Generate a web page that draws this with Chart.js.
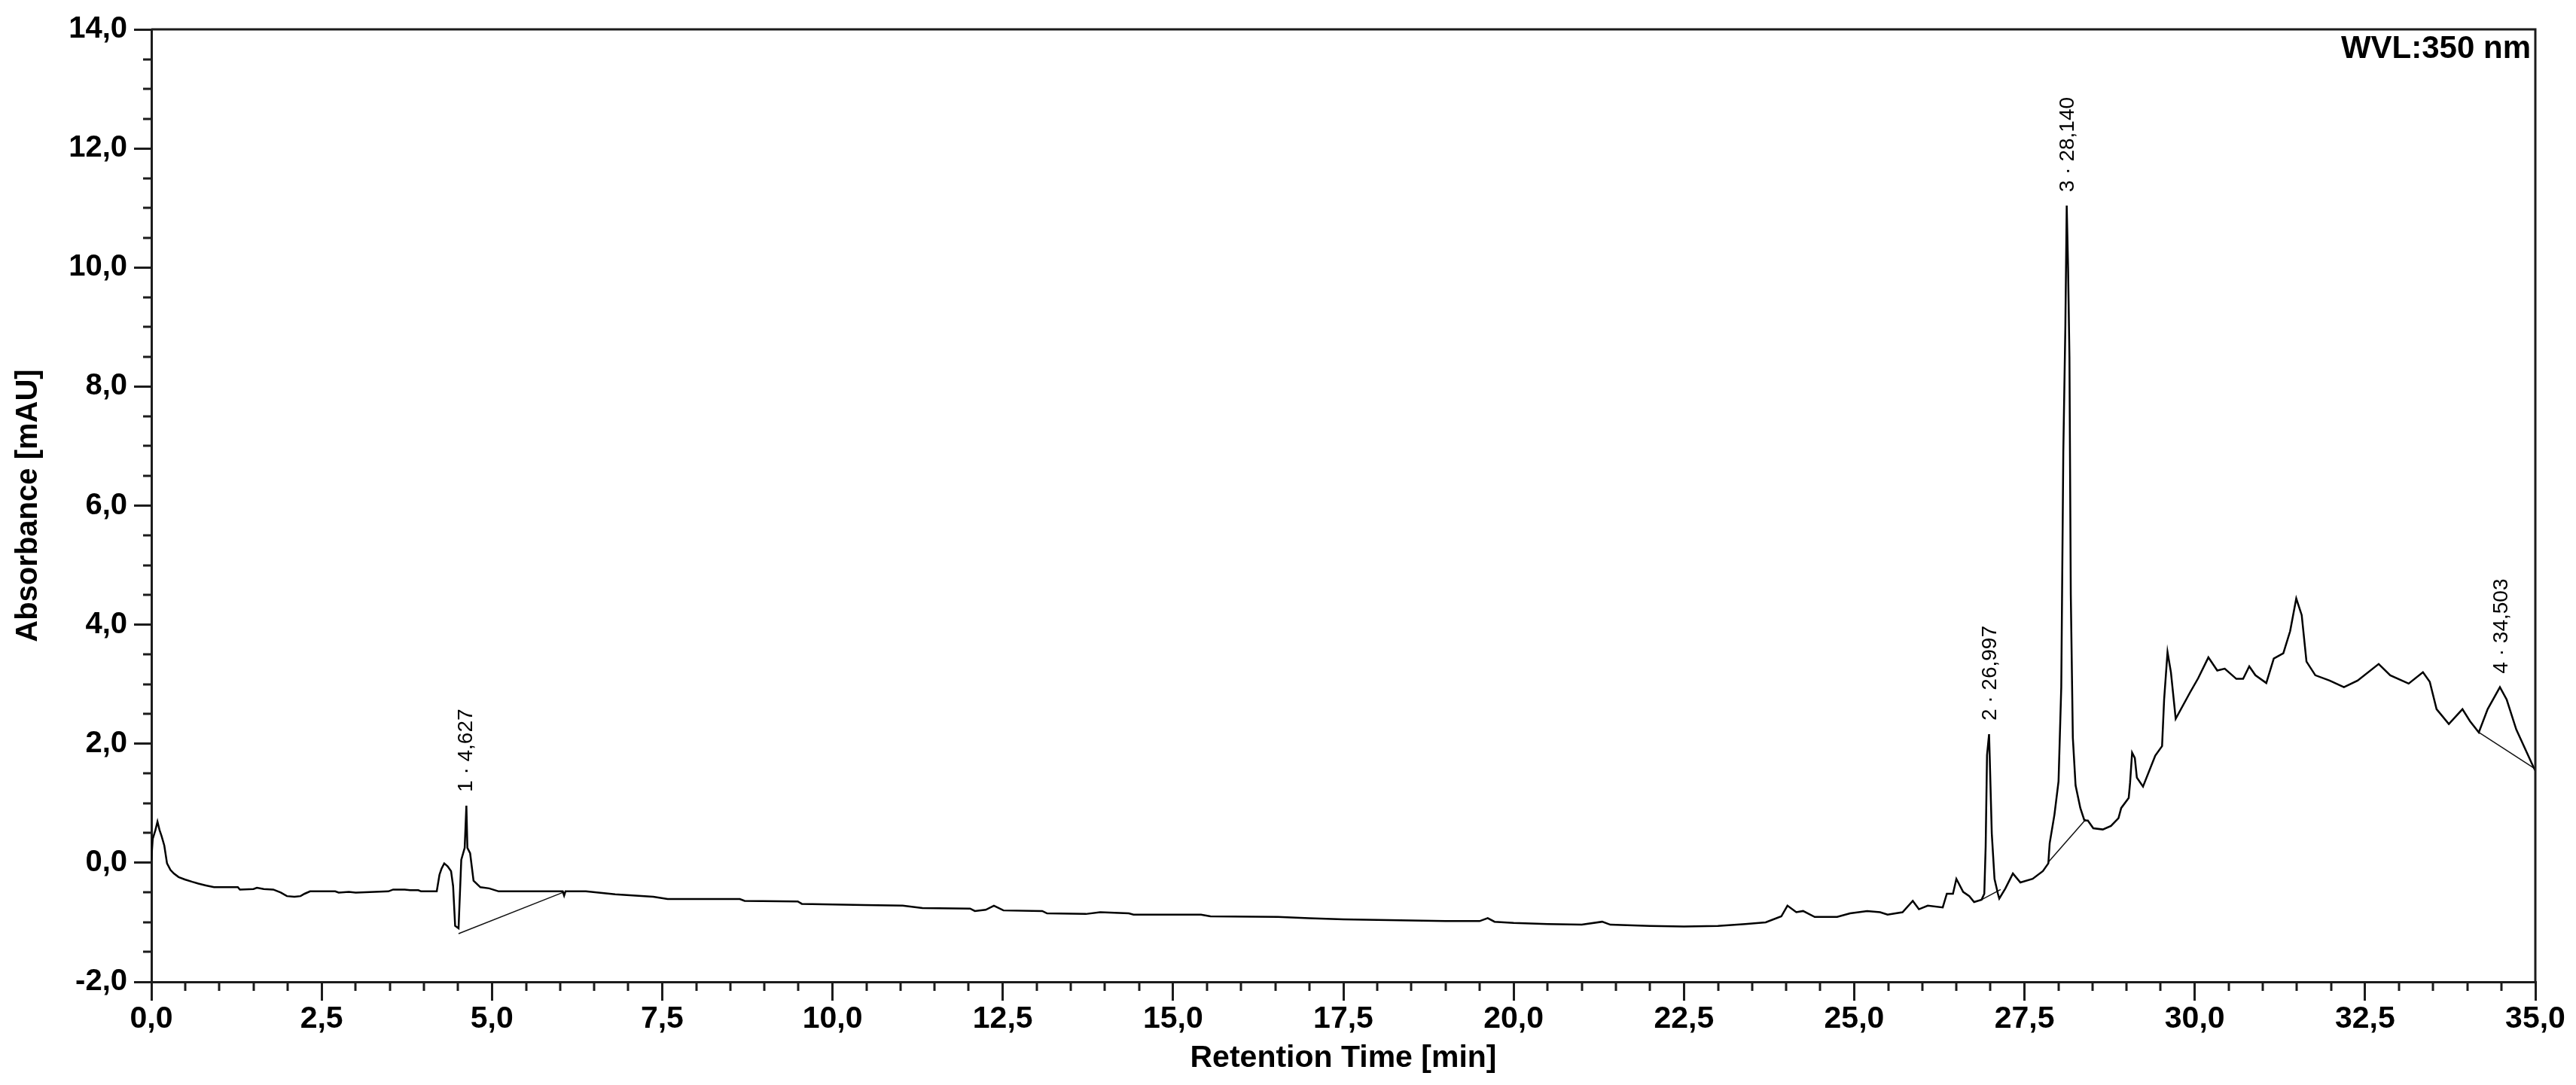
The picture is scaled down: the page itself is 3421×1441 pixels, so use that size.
<!DOCTYPE html>
<html>
<head>
<meta charset="utf-8">
<script src="https://cdn.jsdelivr.net/npm/chart.js@4.4.2/dist/chart.umd.min.js"></script>
<style>
  html, body { margin: 0; padding: 0; background: #fff; }
  #wrap { width: 3421px; height: 1441px; }
</style>
</head>
<body>
<div id="wrap"><canvas id="chromChart" width="3421" height="1441"></canvas></div>
<script>
// Chromatogram trace: retention time (min) / signal (mAU)
const retentionTime = [
  0.00, 0.02, 0.06, 0.09, 0.12, 0.15, 0.19, 0.23, 0.28, 0.33, 0.40, 0.49, 0.60, 0.69, 0.80, 0.92,
  1.10, 1.27, 1.30, 1.50, 1.55, 1.65, 1.79, 1.90, 1.99, 2.10, 2.19, 2.25, 2.33, 2.70, 2.75, 2.90,
  3.00, 3.48, 3.55, 3.72, 3.80, 3.92, 3.96, 4.19, 4.23, 4.26, 4.30, 4.35, 4.40, 4.43, 4.46, 4.51,
  4.55, 4.60, 4.625, 4.64, 4.68, 4.73, 4.83, 4.96, 5.10, 5.50, 6.04, 6.06, 6.08, 6.38, 6.81, 7.37,
  7.58, 8.64, 8.71, 9.49, 9.55, 10.47, 11.03, 11.32, 12.02, 12.09, 12.25, 12.37, 12.51, 13.08, 13.15, 13.72,
  13.93, 14.35, 14.42, 15.41, 15.55, 16.54, 17.0, 17.5, 18.0, 18.5, 19.0, 19.5, 19.62, 19.72, 20.0, 20.5,
  21.0, 21.3, 21.42, 22.0, 22.5, 23.0, 23.4, 23.7, 23.93, 24.02, 24.15, 24.25, 24.42, 24.75, 24.94, 25.19,
  25.38, 25.49, 25.71, 25.86, 25.95, 26.08, 26.30, 26.36, 26.45, 26.50, 26.60, 26.69, 26.76, 26.87, 26.91, 26.93,
  26.95, 26.98, 26.99, 27.02, 27.06, 27.11, 27.13, 27.22, 27.33, 27.44, 27.62, 27.77, 27.85, 27.87, 27.94, 28.00,
  28.04, 28.07, 28.10, 28.12, 28.14, 28.16, 28.18, 28.21, 28.25, 28.32, 28.38, 28.43, 28.51, 28.65, 28.77, 28.88,
  28.92, 29.03, 29.05, 29.08, 29.12, 29.15, 29.24, 29.42, 29.52, 29.55, 29.60, 29.65, 29.72, 29.93, 30.05, 30.20,
  30.33, 30.44, 30.61, 30.71, 30.80, 30.89, 31.05, 31.16, 31.30, 31.40, 31.49, 31.57, 31.64, 31.77, 31.98, 32.19,
  32.39, 32.70, 32.87, 33.14, 33.35, 33.45, 33.55, 33.73, 33.93, 34.04, 34.17, 34.30, 34.48, 34.58, 34.72, 34.98,
  35.00
];
const absorbance = [
  0.05, 0.40, 0.55, 0.69, 0.55, 0.45, 0.29, -0.01, -0.12, -0.18, -0.24, -0.28, -0.32, -0.35, -0.38, -0.41,
  -0.41, -0.41, -0.45, -0.44, -0.42, -0.44, -0.45, -0.50, -0.56, -0.57, -0.56, -0.52, -0.48, -0.48, -0.50, -0.49,
  -0.50, -0.48, -0.45, -0.45, -0.46, -0.46, -0.48, -0.48, -0.20, -0.10, -0.01, -0.06, -0.14, -0.39, -1.06, -1.10,
  0.05, 0.25, 0.96, 0.25, 0.16, -0.30, -0.41, -0.43, -0.48, -0.48, -0.48, -0.55, -0.48, -0.48, -0.53, -0.57,
  -0.61, -0.61, -0.64, -0.65, -0.69, -0.71, -0.72, -0.76, -0.77, -0.81, -0.79, -0.72, -0.80, -0.81, -0.85, -0.86,
  -0.83, -0.85, -0.87, -0.87, -0.90, -0.91, -0.93, -0.95, -0.96, -0.97, -0.98, -0.98, -0.93, -0.99, -1.01, -1.03,
  -1.04, -0.99, -1.04, -1.06, -1.07, -1.06, -1.03, -1.00, -0.90, -0.72, -0.83, -0.81, -0.91, -0.91, -0.85, -0.81,
  -0.83, -0.87, -0.83, -0.64, -0.78, -0.72, -0.75, -0.52, -0.52, -0.27, -0.49, -0.56, -0.66, -0.62, -0.52, 0.27,
  1.81, 2.16, 1.76, 0.49, -0.27, -0.52, -0.60, -0.43, -0.18, -0.33, -0.27, -0.14, -0.01, 0.33, 0.81, 1.37,
  2.95, 6.90, 9.00, 11.04, 10.00, 8.50, 4.50, 2.10, 1.30, 0.92, 0.71, 0.71, 0.58, 0.56, 0.62, 0.75,
  0.92, 1.09, 1.34, 1.85, 1.76, 1.43, 1.28, 1.80, 1.96, 2.74, 3.54, 3.20, 2.42, 2.86, 3.10, 3.45,
  3.23, 3.26, 3.09, 3.09, 3.30, 3.15, 3.02, 3.43, 3.52, 3.89, 4.44, 4.16, 3.38, 3.15, 3.06, 2.95,
  3.06, 3.34, 3.15, 3.01, 3.20, 3.04, 2.58, 2.33, 2.58, 2.38, 2.19, 2.58, 2.95, 2.74, 2.24, 1.59,
  1.55
];

// integration baselines drawn under the detected peaks: [time, signal] end points
const peak1Baseline = [[4.51, -1.19], [6.06, -0.49]];
const peak2Baseline = [[26.87, -0.62], [27.15, -0.45]];
const peak3Baseline = [[27.85, 0.01], [28.40, 0.73]];
const peak4Baseline = [[34.17, 2.19], [34.98, 1.59]];

// peak annotations
const peakNumbers = [1, 2, 3, 4];
const peakTimes = [4.627, 26.997, 28.140, 34.503];
const peakApex = [0.96, 2.16, 11.04, 2.95];

const wavelengthLabel = 'WVL:350 nm';

const X_MIN = 0, X_MAX = 35, X_MAJOR = 2.5, X_MINOR = 0.5;
const Y_MIN = -2, Y_MAX = 14, Y_MAJOR = 2, Y_MINOR = 0.5;

const AXIS_COLOR = '#1c1c1c';
const FONT_FAMILY = "'Liberation Sans', Arial, sans-serif";

const commaNum = (v, d) => v.toFixed(d).replace('.', ',');

const toPoints = (xs, ys) => xs.map((t, i) => ({x: t, y: ys[i]}));
const pairPoints = pairs => pairs.map(p => ({x: p[0], y: p[1]}));

// minor ticks, frame and text annotations drawn on top through the chart scales
const decorations = {
  id: 'decorations',
  afterDraw(chart) {
    const {ctx, chartArea, scales} = chart;
    const xs = scales.x, ys = scales.y;
    ctx.save();
    ctx.strokeStyle = AXIS_COLOR;
    ctx.lineWidth = 3;

    // closing frame (top and right edges)
    ctx.beginPath();
    ctx.moveTo(chartArea.left, chartArea.top);
    ctx.lineTo(chartArea.right, chartArea.top);
    ctx.lineTo(chartArea.right, chartArea.bottom);
    ctx.stroke();

    // minor ticks
    ctx.beginPath();
    const nx = Math.round((X_MAX - X_MIN) / X_MINOR);
    const perX = Math.round(X_MAJOR / X_MINOR);
    for (let i = 0; i <= nx; i++) {
      if (i % perX === 0) continue;
      const px = Math.round(xs.getPixelForValue(X_MIN + i * X_MINOR));
      ctx.moveTo(px, chartArea.bottom);
      ctx.lineTo(px, chartArea.bottom + 12);
    }
    const ny = Math.round((Y_MAX - Y_MIN) / Y_MINOR);
    const perY = Math.round(Y_MAJOR / Y_MINOR);
    for (let i = 0; i <= ny; i++) {
      if (i % perY === 0) continue;
      const py = Math.round(ys.getPixelForValue(Y_MIN + i * Y_MINOR));
      ctx.moveTo(chartArea.left, py);
      ctx.lineTo(chartArea.left - 11, py);
    }
    ctx.stroke();

    // wavelength tag
    ctx.fillStyle = '#000';
    ctx.font = 'bold 42px ' + FONT_FAMILY;
    ctx.textAlign = 'right';
    ctx.textBaseline = 'alphabetic';
    ctx.fillText(wavelengthLabel, chartArea.right - 6, chartArea.top + 38);

    // peak labels, rotated
    ctx.font = '28px ' + FONT_FAMILY;
    ctx.textAlign = 'left';
    ctx.textBaseline = 'middle';
    peakTimes.forEach((t, i) => {
      const px = xs.getPixelForValue(t);
      const py = ys.getPixelForValue(peakApex[i]);
      ctx.save();
      ctx.translate(px, py - 18);
      ctx.rotate(-Math.PI / 2);
      ctx.fillText(peakNumbers[i] + ' \u00b7 ' + commaNum(t, 3), 0, 0);
      ctx.restore();
    });
    ctx.restore();
  }
};

const baselineStyle = {
  borderColor: '#111',
  borderWidth: 1.5,
  pointRadius: 0,
  tension: 0
};

new Chart(document.getElementById('chromChart'), {
  type: 'line',
  data: {
    datasets: [
      {
        label: 'Signal',
        data: toPoints(retentionTime, absorbance),
        borderColor: '#000',
        borderWidth: 2.5,
        pointRadius: 0,
        tension: 0
      },
      {label: 'Baseline 1', data: pairPoints(peak1Baseline), ...baselineStyle},
      {label: 'Baseline 2', data: pairPoints(peak2Baseline), ...baselineStyle},
      {label: 'Baseline 3', data: pairPoints(peak3Baseline), ...baselineStyle},
      {label: 'Baseline 4', data: pairPoints(peak4Baseline), ...baselineStyle}
    ]
  },
  options: {
    responsive: false,
    animation: false,
    events: [],
    layout: {padding: {left: 0, top: 39, right: 54, bottom: 0}},
    plugins: {legend: {display: false}, tooltip: {enabled: false}},
    scales: {
      x: {
        type: 'linear',
        min: X_MIN,
        max: X_MAX,
        afterFit: s => { s.height = 137; },
        border: {display: true, color: AXIS_COLOR, width: 3},
        grid: {
          drawOnChartArea: false,
          drawTicks: true,
          tickLength: 25,
          tickColor: AXIS_COLOR,
          lineWidth: 3
        },
        ticks: {
          stepSize: X_MAJOR,
          autoSkip: false,
          maxRotation: 0,
          padding: 0,
          color: '#000',
          font: {family: FONT_FAMILY, size: 41, weight: 'bold'},
          callback: v => commaNum(v, 1)
        },
        title: {
          display: true,
          text: 'Retention Time [min]',
          color: '#000',
          font: {family: FONT_FAMILY, size: 41, weight: 'bold'},
          padding: {top: 0, bottom: 11}
        }
      },
      y: {
        type: 'linear',
        min: Y_MIN,
        max: Y_MAX,
        afterFit: s => { s.width = 201; },
        border: {display: true, color: AXIS_COLOR, width: 3},
        grid: {
          drawOnChartArea: false,
          drawTicks: true,
          tickLength: 23,
          tickColor: AXIS_COLOR,
          lineWidth: 3
        },
        ticks: {
          stepSize: Y_MAJOR,
          padding: 9,
          color: '#000',
          font: {family: FONT_FAMILY, size: 40, weight: 'bold'},
          callback: v => commaNum(v, 1)
        },
        title: {
          display: true,
          text: 'Absorbance [mAU]',
          color: '#000',
          font: {family: FONT_FAMILY, size: 40, weight: 'bold'},
          padding: {top: 14, bottom: 0}
        }
      }
    }
  },
  plugins: [decorations]
});
</script>
</body>
</html>
